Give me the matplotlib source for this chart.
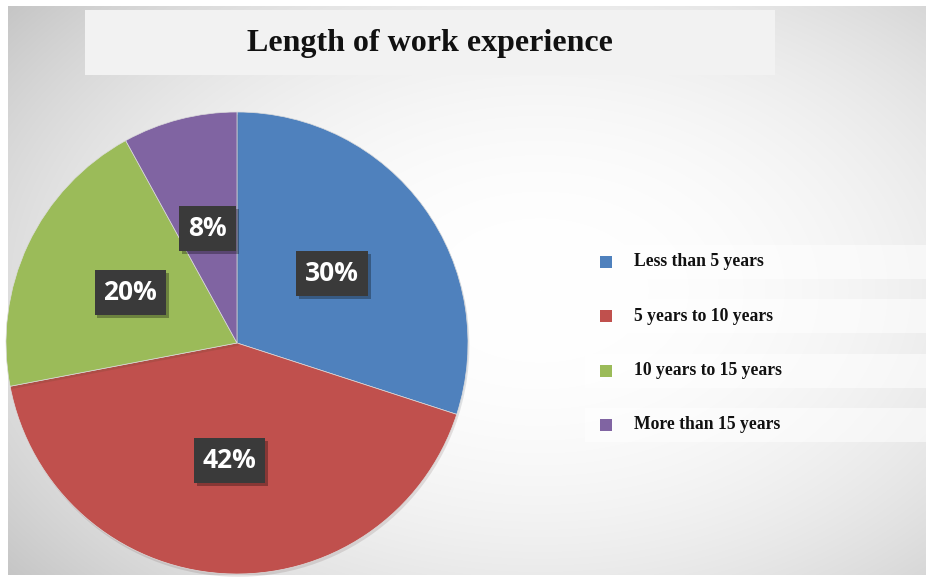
import numpy as np
import matplotlib.pyplot as plt
from matplotlib.patches import Rectangle
import matplotlib.patheffects as pe

# Data
categories = ["Less than 5 years", "5 years to 10 years",
              "10 years to 15 years", "More than 15 years"]
shares = [30, 42, 20, 8]
colors = ["#4f81bd", "#c0504d", "#9bbb59", "#8064a2"]
title = "Length of work experience"

W, H = 926, 577
fig = plt.figure(figsize=(W / 100, H / 100), dpi=100)
ax = fig.add_axes([0, 0, 1, 1])

# Soft radial backdrop, white in the middle, grey at the borders
yy, xx = np.mgrid[0:H, 0:W]
r = np.sqrt(((xx - 540) / 600.0) ** 2 + ((yy - 290) / 400.0) ** 2)
v = 1.0 - 0.17 * np.clip(r, 0, 1.2) ** 2.2
v[:, :8] = 1.0
v[:6, :] = 1.0
v[-2:, :] = 1.0
bg = np.dstack([v, v, v])
ax.imshow(bg, extent=[0, W, 0, H], origin="upper", zorder=0,
          interpolation="bilinear")

def py(y):
    return H - y

# Title banner
ax.add_patch(Rectangle((85, py(75)), 690, 65, facecolor="#f2f2f2",
                       edgecolor="none", zorder=1))
ax.text(430, py(44), title, ha="center", va="center",
        family="Liberation Serif", fontweight="bold", fontsize=23,
        color="#111111", zorder=2)

# Pie
wedges, texts, autotexts = ax.pie(
    shares, colors=colors, startangle=90, counterclock=False,
    center=(237, py(343)), radius=231, autopct="%d%%", pctdistance=0.51,
    wedgeprops=dict(linewidth=0.5, edgecolor="#dddddd"),
    textprops=dict(color="white", fontsize=19, fontweight="bold",
                   family="Open Sans"),
    frame=True)
for w in wedges:
    w.set_zorder(3)
    w.set_path_effects([pe.SimplePatchShadow(offset=(1, -2), alpha=0.12),
                        pe.Normal()])
for t in autotexts:
    t.set_zorder(5)
    t.set_bbox(dict(boxstyle="square,pad=0.34", facecolor="#3a3a3a",
                    edgecolor="none"))
    t.get_bbox_patch().set_path_effects(
        [pe.SimplePatchShadow(offset=(2, -2), shadow_rgbFace="#000000",
                              alpha=0.3), pe.Normal()])

# Legend rows
leg_top = 262
step = 54.3
for i, (lab, col) in enumerate(zip(categories, colors)):
    yc = py(leg_top + i * step)
    ax.add_patch(Rectangle((585, yc - 17), W - 585, 34, facecolor="white",
                           alpha=0.55, edgecolor="none", zorder=1))
    ax.add_patch(Rectangle((600, yc - 6), 12, 12, facecolor=col,
                           edgecolor="none", zorder=2))
    ax.text(634, yc, lab, ha="left", va="center", family="Liberation Serif",
            fontweight="bold", fontsize=12.7, color="#111111", zorder=2)

ax.set_xlim(0, W)
ax.set_ylim(0, H)
ax.set_aspect("equal")
ax.axis("off")

fig.savefig("out.png", dpi=100)
